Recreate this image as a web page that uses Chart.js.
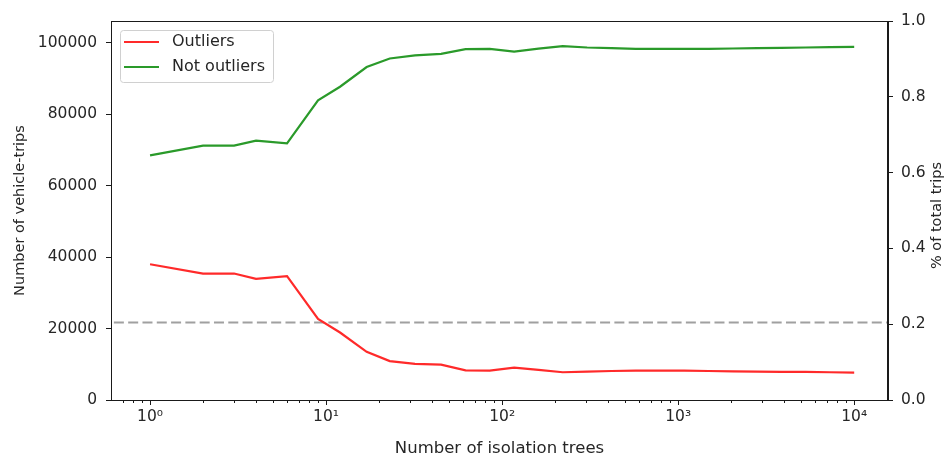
<!DOCTYPE html>
<html>
<head>
<meta charset="utf-8">
<script src="https://cdn.jsdelivr.net/npm/chart.js@4/dist/chart.umd.min.js"></script>
<style>
  body { margin: 0; background: #fff; }
  #wrap { width: 947px; height: 457px; }
</style>
</head>
<body>
<div id="wrap"><canvas id="chart" width="947" height="457"></canvas></div>
<script>
// number of isolation trees (x) and counts per series
const treeCounts = [1, 2, 3, 4, 6, 9, 12, 17, 23, 32, 45, 62, 85, 117, 161, 221, 304, 418, 574, 788, 1082, 1487, 2043, 2807, 3856, 5298, 7279, 10000];
const outliers = [38000, 35400, 35400, 33900, 34700, 22700, 18900, 13500, 10900, 10100, 9900, 8300, 8200, 9050, 8450, 7770, 7960, 8120, 8210, 8210, 8210, 8120, 8030, 7960, 7870, 7870, 7770, 7680];
const notOutliers = [68500, 71200, 71200, 72600, 71850, 83900, 87700, 93200, 95600, 96500, 96900, 98200, 98300, 97550, 98350, 99050, 98680, 98490, 98310, 98310, 98310, 98310, 98400, 98490, 98590, 98680, 98770, 98870];
const thresholdValue = 21700;

const seriesLabels = ['Outliers', 'Not outliers'];
const xMajorTicks = [1, 10, 100, 1000, 10000];
const xTickLabels = ['10⁰', '10¹', '10²', '10³', '10⁴'];
const leftTicks = [0, 20000, 40000, 60000, 80000, 100000];
const rightTicks = [0, 0.2, 0.4, 0.6, 0.8, 1.0];
const xLimits = [0.623, 15560];
const leftLimits = [0, 106100];
const rightLimits = [0, 1];

const FONT = 'DejaVu Sans';
const TEXT = '#262626';
const AXIS = '#1a1a1a';

Chart.defaults.font.family = FONT;
Chart.defaults.color = TEXT;

const pairs = (xs, ys) => xs.map((x, i) => ({ x: x, y: ys[i] }));
const fixedTicks = values => axis => {
    axis.ticks = values.map(v => ({ value: v }));
};

// frame, minor ticks, legend box and right-hand axis title
const extras = {
    id: 'extras',
    afterDraw(chart) {
        const ctx = chart.ctx;
        const area = chart.chartArea;
        const xScale = chart.scales.x;

        ctx.save();
        ctx.strokeStyle = AXIS;
        ctx.lineWidth = 1;
        ctx.strokeRect(area.left + 0.5, area.top + 0.5, area.right - area.left - 1, area.bottom - area.top);

        // minor log ticks
        for (let k = -1; k <= 4; k++) {
            for (let m = 2; m <= 9; m++) {
                const v = m * Math.pow(10, k);
                if (v < xLimits[0] || v > xLimits[1]) continue;
                const px = Math.round(xScale.getPixelForValue(v)) + 0.5;
                ctx.beginPath();
                ctx.moveTo(px, area.bottom);
                ctx.lineTo(px, area.bottom + 3);
                ctx.stroke();
            }
        }

        // legend
        const lx = area.left + 9, ly = area.top + 9, lw = 153, lh = 52;
        ctx.beginPath();
        ctx.roundRect(lx + 0.5, ly + 0.5, lw, lh, 3);
        ctx.fillStyle = 'rgba(255,255,255,0.85)';
        ctx.fill();
        ctx.strokeStyle = '#d0d0d0';
        ctx.stroke();
        ctx.font = '16px "' + FONT + '"';
        ctx.textBaseline = 'middle';
        ctx.textAlign = 'left';
        chart.data.datasets.forEach(ds => {
            const idx = seriesLabels.indexOf(ds.label);
            if (idx < 0) return;
            const cy = ly + 12 + idx * 25;
            ctx.strokeStyle = ds.borderColor;
            ctx.lineWidth = 2;
            ctx.beginPath();
            ctx.moveTo(lx + 4, cy);
            ctx.lineTo(lx + 39, cy);
            ctx.stroke();
            ctx.fillStyle = TEXT;
            ctx.fillText(ds.label, lx + 52, cy);
        });

        // right axis title, reading bottom to top like the left one
        ctx.translate(937, (area.top + area.bottom) / 2 + 5);
        ctx.rotate(-Math.PI / 2);
        ctx.textAlign = 'center';
        ctx.font = '14.5px "' + FONT + '"';
        ctx.fillText('% of total trips', 0, 0);
        ctx.restore();
    }
};

new Chart(document.getElementById('chart'), {
    type: 'line',
    data: {
        datasets: [
            {
                label: seriesLabels[0],
                data: pairs(treeCounts, outliers),
                borderColor: '#ff2a2a',
                borderWidth: 2.2,
                pointRadius: 0,
                yAxisID: 'y',
                order: 1
            },
            {
                label: seriesLabels[1],
                data: pairs(treeCounts, notOutliers),
                borderColor: '#2a9a2a',
                borderWidth: 2.2,
                pointRadius: 0,
                yAxisID: 'y',
                order: 1
            },
            {
                label: 'threshold',
                data: pairs(xLimits, [thresholdValue, thresholdValue]),
                borderColor: 'rgba(128,128,128,0.75)',
                borderWidth: 2,
                borderDash: [10, 4.3],
                pointRadius: 0,
                yAxisID: 'y',
                order: 2
            },
            {
                label: 'share',
                data: [],
                yAxisID: 'y1'
            }
        ]
    },
    options: {
        responsive: false,
        animation: false,
        layout: { padding: { top: 21, left: 0, right: 0, bottom: 0 } },
        plugins: {
            legend: { display: false },
            tooltip: { enabled: false }
        },
        scales: {
            x: {
                type: 'logarithmic',
                min: xLimits[0],
                max: xLimits[1],
                afterBuildTicks: fixedTicks(xMajorTicks),
                afterFit: axis => { axis.height = 57; },
                ticks: {
                    autoSkip: false,
                    maxRotation: 0,
                    padding: 3,
                    font: { size: 15.5 },
                    callback: value => {
                        const i = xMajorTicks.indexOf(value);
                        return i >= 0 ? xTickLabels[i] : '';
                    }
                },
                grid: { drawOnChartArea: false, drawTicks: true, tickLength: 5, color: AXIS },
                border: { color: AXIS, width: 1 },
                title: {
                    display: true,
                    text: 'Number of isolation trees',
                    font: { size: 16.5 },
                    padding: { top: 0, bottom: -2 }
                }
            },
            y: {
                position: 'left',
                min: leftLimits[0],
                max: leftLimits[1],
                afterBuildTicks: fixedTicks(leftTicks),
                afterFit: axis => { axis.width = 111; },
                ticks: {
                    autoSkip: false,
                    padding: 9,
                    font: { size: 15.5 },
                    callback: value => String(value)
                },
                grid: { drawOnChartArea: false, drawTicks: true, tickLength: 5, color: AXIS },
                border: { color: AXIS, width: 1 },
                title: {
                    display: true,
                    text: 'Number of vehicle-trips',
                    font: { size: 14.5 },
                    padding: { top: 12, bottom: 0 }
                }
            },
            y1: {
                position: 'right',
                min: rightLimits[0],
                max: rightLimits[1],
                afterBuildTicks: fixedTicks(rightTicks),
                afterFit: axis => { axis.width = 59; },
                ticks: {
                    autoSkip: false,
                    padding: 8,
                    font: { size: 15.5 },
                    callback: value => value.toFixed(1)
                },
                grid: { drawOnChartArea: false, drawTicks: true, tickLength: 5, color: AXIS },
                border: { color: AXIS, width: 1 }
            }
        }
    },
    plugins: [extras]
});
</script>
</body>
</html>
